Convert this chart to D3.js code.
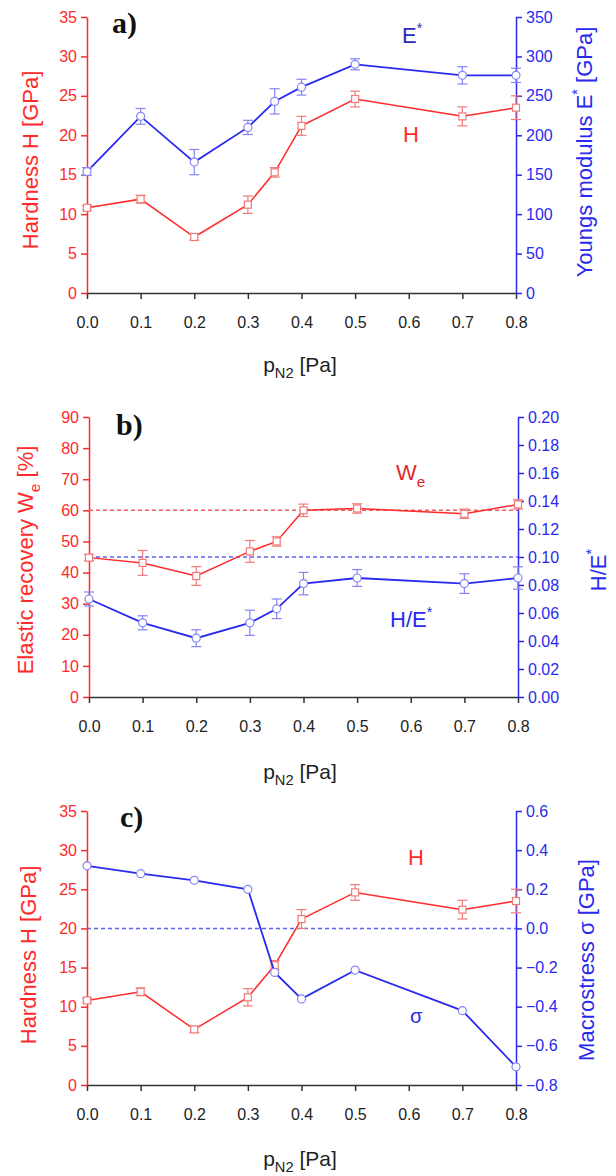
<!DOCTYPE html>
<html>
<head>
<meta charset="utf-8">
<script src="https://cdn.jsdelivr.net/npm/d3@7"></script>
<style>
body { margin: 0; background: #fff; }
text { font-family: "Liberation Sans", Arial, sans-serif; }
text.letter { font-family: "Liberation Serif", "Times New Roman", serif; }
</style>
</head>
<body>
<svg width="616" height="1176"></svg>
<script>
// p_N2 [Pa]
const pN2 = [0.0, 0.1, 0.2, 0.3, 0.35, 0.4, 0.5, 0.7, 0.8];
const xTicks = [0.0, 0.1, 0.2, 0.3, 0.4, 0.5, 0.6, 0.7, 0.8];

// hardness H [GPa]
const hardness = [10.8, 11.9, 7.1, 11.2, 15.3, 21.2, 24.6, 22.4, 23.5];
const hardnessErr = [0.3, 0.5, 0.4, 1.1, 0.6, 1.2, 1.0, 1.2, 1.5];
// youngs modulus E* [GPa]
const youngs = [154, 224, 166, 210, 243, 261, 290, 276, 276];
const youngsErr = [5, 10, 16, 9, 16, 10, 7, 11, 9];
// elastic recovery We [%]
const recovery = [44.8, 43.1, 38.9, 46.8, 50.0, 60.0, 60.6, 58.9, 61.9];
const recoveryErr = [1.0, 4.0, 3.0, 3.5, 1.5, 2.0, 1.5, 1.5, 1.5];
// H/E*
const hOverE = [0.070, 0.053, 0.042, 0.053, 0.063, 0.081, 0.085, 0.081, 0.085];
const hOverEErr = [0.005, 0.005, 0.006, 0.009, 0.007, 0.008, 0.006, 0.007, 0.008];
// macrostress sigma [GPa]
const macrostress = [0.32, 0.28, 0.246, 0.20, -0.225, -0.36, -0.213, -0.42, -0.707];

const hTicks = [0, 5, 10, 15, 20, 25, 30, 35];
const eTicks = [0, 50, 100, 150, 200, 250, 300, 350];
const weTicks = [0, 10, 20, 30, 40, 50, 60, 70, 80, 90];
const heTicks = [0, 0.02, 0.04, 0.06, 0.08, 0.10, 0.12, 0.14, 0.16, 0.18, 0.20];
const sigmaTicks = [-0.8, -0.6, -0.4, -0.2, 0.0, 0.2, 0.4, 0.6];

const RED = "#ff2a2a", RED_LIGHT = "#f27a7a";
const BLUE = "#2a2aee", BLUE_LIGHT = "#8585f5";

const svg = d3.select("svg");

// text made of parts: [string, "sub"|"sup"|null]
function richText(g, parts, size) {
	const t = g.append("text").attr("font-size", size);
	let shift = 0;
	parts.forEach(p => {
		let target = 0, fs = size;
		if (p[1] === "sub") { target = size * 0.3; fs = size * 0.7; }
		if (p[1] === "sup") { target = -size * 0.45; fs = size * 0.65; }
		t.append("tspan").attr("dy", target - shift).attr("font-size", fs).text(p[0]);
		shift = target;
	});
	return t;
}

function drawPanel(o) {
	const g = svg.append("g");
	const x = d3.scaleLinear().domain([0, 0.8]).range([o.left, o.right]);
	const yL = d3.scaleLinear().domain(o.leftDomain).range([o.bottom, o.top]);
	const yR = d3.scaleLinear().domain(o.rightDomain).range([o.bottom, o.top]);

	// axes
	const ax = g.append("g")
		.attr("transform", "translate(0," + o.bottom + ")")
		.call(d3.axisBottom(x).tickValues(xTicks).tickFormat(d3.format(".1f")).tickSize(6).tickSizeOuter(0).tickPadding(18));
	ax.select(".domain").attr("stroke", "#333").attr("stroke-width", 1.5);
	ax.selectAll(".tick line").attr("stroke", "#333").attr("stroke-width", 1.5);
	ax.selectAll("text").attr("font-size", 16).attr("fill", "#222");

	const al = g.append("g")
		.attr("transform", "translate(" + o.left + ",0)")
		.call(d3.axisLeft(yL).tickValues(o.leftTicks).tickFormat(o.leftFormat).tickSize(6).tickSizeOuter(0).tickPadding(4));
	al.select(".domain").attr("stroke", RED).attr("stroke-width", 1.5);
	al.selectAll(".tick line").attr("stroke", RED).attr("stroke-width", 1.5);
	al.selectAll("text").attr("font-size", 16).attr("fill", RED);

	const ar = g.append("g")
		.attr("transform", "translate(" + o.right + ",0)")
		.call(d3.axisRight(yR).tickValues(o.rightTicks).tickFormat(o.rightFormat).tickSize(6).tickSizeOuter(0).tickPadding(4));
	ar.select(".domain").attr("stroke", BLUE).attr("stroke-width", 1.5);
	ar.selectAll(".tick line").attr("stroke", BLUE).attr("stroke-width", 1.5);
	ar.selectAll("text").attr("font-size", 16).attr("fill", BLUE);

	// dashed reference lines
	(o.dashed || []).forEach(d => {
		const sc = d.axis === "left" ? yL : yR;
		g.append("line")
			.attr("x1", x(0)).attr("x2", x(0.8))
			.attr("y1", sc(d.value)).attr("y2", sc(d.value))
			.attr("stroke", d.color).attr("stroke-width", 1.5)
			.attr("stroke-dasharray", "4,3");
	});

	// series
	o.series.forEach(s => {
		const sc = s.axis === "left" ? yL : yR;
		const pts = pN2.map((p, i) => ({ p: p, v: s.values[i], e: s.errors ? s.errors[i] : 0 }));
		g.append("path")
			.datum(pts)
			.attr("fill", "none")
			.attr("stroke", s.color)
			.attr("stroke-width", s.width)
			.attr("d", d3.line().x(d => x(d.p)).y(d => sc(d.v)));

		if (s.errors) {
			const eb = g.append("g").selectAll("g").data(pts).enter().append("g")
				.attr("stroke", s.light).attr("stroke-width", 1.2);
			eb.append("line")
				.attr("x1", d => x(d.p)).attr("x2", d => x(d.p))
				.attr("y1", d => sc(d.v - d.e)).attr("y2", d => sc(d.v + d.e));
			eb.append("line")
				.attr("x1", d => x(d.p) - 5).attr("x2", d => x(d.p) + 5)
				.attr("y1", d => sc(d.v + d.e)).attr("y2", d => sc(d.v + d.e));
			eb.append("line")
				.attr("x1", d => x(d.p) - 5).attr("x2", d => x(d.p) + 5)
				.attr("y1", d => sc(d.v - d.e)).attr("y2", d => sc(d.v - d.e));
		}

		if (s.marker === "square") {
			g.selectAll(null).data(pts).enter().append("rect")
				.attr("x", d => x(d.p) - 3.5).attr("y", d => sc(d.v) - 3.5)
				.attr("width", 7).attr("height", 7)
				.attr("fill", "#fff").attr("stroke", s.light).attr("stroke-width", 1.2);
		} else {
			g.selectAll(null).data(pts).enter().append("circle")
				.attr("cx", d => x(d.p)).attr("cy", d => sc(d.v)).attr("r", 4)
				.attr("fill", "#fff").attr("stroke", s.light).attr("stroke-width", 1.2);
		}
	});

	// axis titles
	richText(g, o.leftTitle, 22)
		.attr("fill", RED).attr("text-anchor", "middle")
		.attr("transform", "translate(" + o.leftTitleX + "," + o.leftTitleY + ") rotate(-90)");
	richText(g, o.rightTitle, 22)
		.attr("fill", BLUE).attr("text-anchor", "middle")
		.attr("transform", "translate(" + o.rightTitleX + "," + o.rightTitleY + ") rotate(-90)");
	richText(g, [["p", null], ["N2", "sub"], [" [Pa]", null]], 21)
		.attr("fill", "#222").attr("text-anchor", "middle")
		.attr("x", 300).attr("y", o.titleY);

	// panel letter
	g.append("text")
		.attr("class", "letter")
		.attr("x", o.letterX).attr("y", o.letterY)
		.attr("font-weight", "bold").attr("font-size", 30)
		.attr("fill", "#111").text(o.letter);

	// inline labels
	o.notes.forEach(n => {
		richText(g, n.parts, n.size || 22).attr("fill", n.color).attr("x", n.x).attr("y", n.y);
	});
}

drawPanel({
	top: 17, bottom: 293, left: 87, right: 516,
	leftDomain: [0, 35], leftTicks: hTicks, leftFormat: d3.format("d"),
	rightDomain: [0, 350], rightTicks: eTicks, rightFormat: d3.format("d"),
	series: [
		{ values: hardness, errors: hardnessErr, axis: "left", color: RED, light: RED_LIGHT, marker: "square", width: 1.5 },
		{ values: youngs, errors: youngsErr, axis: "right", color: BLUE, light: BLUE_LIGHT, marker: "circle", width: 1.8 }
	],
	leftTitle: [["Hardness H [GPa]", null]], leftTitleX: 38, leftTitleY: 160,
	rightTitle: [["Youngs modulus E", null], ["*", "sup"], [" [GPa]", null]], rightTitleX: 592, rightTitleY: 152,
	titleY: 372,
	letter: "a)", letterX: 112, letterY: 33,
	notes: [
		{ parts: [["E", null], ["*", "sup"]], x: 402, y: 43, color: "#2a2ab8" },
		{ parts: [["H", null]], x: 403, y: 142, color: RED }
	]
});

drawPanel({
	top: 417, bottom: 697, left: 89, right: 518,
	leftDomain: [0, 90], leftTicks: weTicks, leftFormat: d3.format("d"),
	rightDomain: [0, 0.2], rightTicks: heTicks, rightFormat: d3.format(".2f"),
	dashed: [
		{ value: 60, axis: "left", color: "#f26060" },
		{ value: 0.10, axis: "right", color: "#6060f2" }
	],
	series: [
		{ values: recovery, errors: recoveryErr, axis: "left", color: RED, light: RED_LIGHT, marker: "square", width: 1.5 },
		{ values: hOverE, errors: hOverEErr, axis: "right", color: BLUE, light: BLUE_LIGHT, marker: "circle", width: 1.8 }
	],
	leftTitle: [["Elastic recovery W", null], ["e", "sub"], [" [%]", null]], leftTitleX: 33, leftTitleY: 560,
	rightTitle: [["H/E", null], ["*", "sup"]], rightTitleX: 606, rightTitleY: 570,
	titleY: 779,
	letter: "b)", letterX: 116, letterY: 435,
	notes: [
		{ parts: [["W", null], ["e", "sub"]], x: 396, y: 480, color: "#e02a2a" },
		{ parts: [["H/E", null], ["*", "sup"]], x: 390, y: 627, color: BLUE }
	]
});

drawPanel({
	top: 811, bottom: 1085, left: 87, right: 516,
	leftDomain: [0, 35], leftTicks: hTicks, leftFormat: d3.format("d"),
	rightDomain: [-0.8, 0.6], rightTicks: sigmaTicks, rightFormat: d3.format(".1f"),
	dashed: [
		{ value: 0.0, axis: "right", color: "#6060f2" }
	],
	series: [
		{ values: hardness, errors: hardnessErr, axis: "left", color: RED, light: RED_LIGHT, marker: "square", width: 1.5 },
		{ values: macrostress, errors: null, axis: "right", color: BLUE, light: BLUE_LIGHT, marker: "circle", width: 1.8 }
	],
	leftTitle: [["Hardness H [GPa]", null]], leftTitleX: 36, leftTitleY: 955,
	rightTitle: [["Macrostress σ [GPa]", null]], rightTitleX: 594, rightTitleY: 960,
	titleY: 1166,
	letter: "c)", letterX: 120, letterY: 827,
	notes: [
		{ parts: [["H", null]], x: 408, y: 865, color: RED },
		{ parts: [["σ", null]], x: 410, y: 1023, color: BLUE, size: 20 }
	]
});
</script>
</body>
</html>
